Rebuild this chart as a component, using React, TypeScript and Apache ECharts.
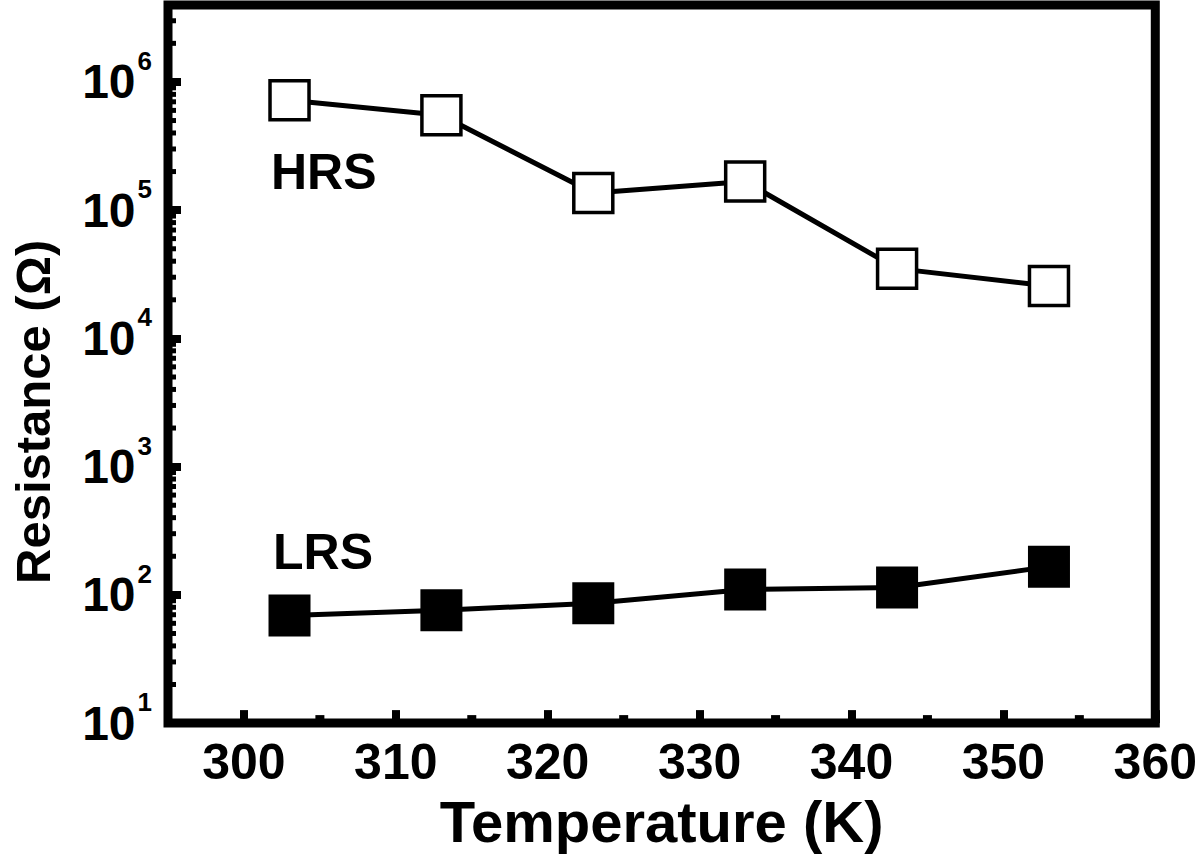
import React, { useEffect, useRef } from 'react';
import * as echarts from 'echarts';

// ---- data ----
const temperatures = [303, 313, 323, 333, 343, 353];
const hrsValues = [7.2e5, 5.5e5, 1.36e5, 1.67e5, 3.5e4, 2.56e4];
const lrsValues = [69, 76, 86, 110, 114, 166];

// ---- axis ticks ----
const xMinorTicks = [305, 315, 325, 335, 345, 355];
const yMinorTicks = [
  20, 30, 40, 50, 60, 70, 80, 90,
  200, 300, 400, 500, 600, 700, 800, 900,
  2000, 3000, 4000, 5000, 6000, 7000, 8000, 9000,
  20000, 30000, 40000, 50000, 60000, 70000, 80000, 90000,
  200000, 300000, 400000, 500000, 600000, 700000, 800000, 900000,
  2000000, 3000000,
];
const X_MIN = 295;
const X_MAX = 360;
const Y_MIN = 10;
const Y_MAX = Math.pow(10, 6.6);

const FONT = '"Liberation Sans", Arial, Helvetica, sans-serif';

export default function App() {
  const ref = useRef<HTMLDivElement>(null);

  useEffect(() => {
    document.body.style.margin = '0';
    const chart = echarts.init(ref.current as HTMLDivElement, null, { renderer: 'svg' });

    const option: any = {
      animation: false,
      backgroundColor: '#fff',
      grid: {
        left: 168,
        right: 42,
        top: 5,
        bottom: 130,
        show: true,
        borderColor: '#000',
        borderWidth: 9,
        backgroundColor: 'transparent',
      },
      xAxis: {
        type: 'value',
        min: X_MIN,
        max: X_MAX,
        splitNumber: 6,
        splitLine: { show: false },
        axisLine: { show: false },
        axisTick: { show: true, inside: true, length: 13, lineStyle: { color: '#000', width: 8 } },
        axisLabel: {
          margin: 14,
          color: '#000',
          fontFamily: FONT,
          fontWeight: 'bold',
          fontSize: 50,
          formatter: (v: number) => (Math.abs(v % 10) < 1e-9 ? String(v) : ''),
        },
        name: 'Temperature (K)',
        nameLocation: 'middle',
        nameGap: 68,
        nameTextStyle: { color: '#000', fontFamily: FONT, fontWeight: 'bold', fontSize: 58 },
      },
      yAxis: {
        type: 'log',
        logBase: 10,
        min: Y_MIN,
        max: Y_MAX,
        splitLine: { show: false },
        axisLine: { show: false },
        axisTick: { show: true, inside: true, length: 13, lineStyle: { color: '#000', width: 8 } },
        axisLabel: {
          margin: 16,
          color: '#000',
          formatter: (v: number) => {
            const e = Math.log10(v);
            const r = Math.round(e);
            if (Math.abs(e - r) > 1e-6) return '';
            return '{b|10}{s|' + r + '}';
          },
          rich: {
            b: { fontFamily: FONT, fontWeight: 'bold', fontSize: 48, lineHeight: 48, color: '#000', verticalAlign: 'middle' },
            s: { fontFamily: FONT, fontWeight: 'bold', fontSize: 26, lineHeight: 24, color: '#000', padding: [0, 0, 42, 2], verticalAlign: 'middle' },
          },
        },
      },
      graphic: [
        {
          type: 'text',
          x: 33,
          y: 584,
          rotation: Math.PI / 2,
          style: {
            text: 'Resistance (\u03A9)',
            font: 'bold 49px ' + FONT,
            fill: '#000',
            align: 'left',
            verticalAlign: 'middle',
            textAlign: 'left',
            textVerticalAlign: 'middle',
          },
        },
        {
          type: 'text',
          x: 271,
          y: 172,
          style: {
            text: 'HRS',
            font: 'bold 50px ' + FONT,
            fill: '#000',
            align: 'left',
            verticalAlign: 'middle',
            textAlign: 'left',
            textVerticalAlign: 'middle',
          },
        },
        {
          type: 'text',
          x: 273,
          y: 552,
          style: {
            text: 'LRS',
            font: 'bold 50px ' + FONT,
            fill: '#000',
            align: 'left',
            verticalAlign: 'middle',
            textAlign: 'left',
            textVerticalAlign: 'middle',
          },
        },
      ],
      series: [
        {
          name: 'HRS',
          type: 'line',
          data: temperatures.map((t, i) => [t, hrsValues[i]]),
          symbol: 'rect',
          symbolSize: 39,
          lineStyle: { color: '#000', width: 5 },
          itemStyle: { color: '#fff', borderColor: '#000', borderWidth: 3.5 },
          z: 3,
        },
        {
          name: 'LRS',
          type: 'line',
          data: temperatures.map((t, i) => [t, lrsValues[i]]),
          symbol: 'rect',
          symbolSize: 42,
          lineStyle: { color: '#000', width: 5 },
          itemStyle: { color: '#000', borderWidth: 0 },
          z: 3,
        },
        {
          type: 'custom',
          silent: true,
          clip: false,
          data: yMinorTicks.map((v) => [X_MIN, v]),
          renderItem: (params: any, api: any) => {
            const p = api.coord([api.value(0), api.value(1)]);
            return {
              type: 'rect',
              shape: { x: p[0], y: p[1] - 2.5, width: 8, height: 5 },
              style: { fill: '#000' },
            };
          },
          z: 5,
        },
        {
          type: 'custom',
          silent: true,
          clip: false,
          data: xMinorTicks.map((v) => [v, Y_MIN]),
          renderItem: (params: any, api: any) => {
            const p = api.coord([api.value(0), api.value(1)]);
            return {
              type: 'rect',
              shape: { x: p[0] - 4.5, y: p[1] - 8, width: 9, height: 8 },
              style: { fill: '#000' },
            };
          },
          z: 5,
        },
      ],
    };

    chart.setOption(option);
    return () => {
      chart.dispose();
    };
  }, []);

  return (
    <div
      ref={ref}
      style={{ position: 'fixed', left: 0, top: 0, width: 1200, height: 855, background: '#fff' }}
    />
  );
}
